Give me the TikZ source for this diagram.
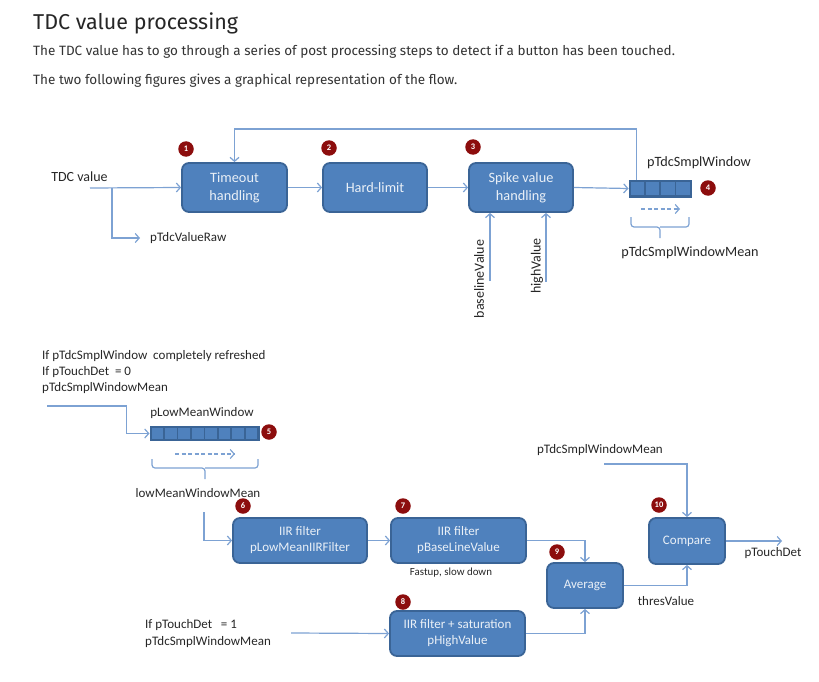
\documentclass[tikz,border=0pt]{standalone}
\usepackage{fontspec}
\setmainfont{Carlito}
\newfontfamily\pagefont{Fira Sans}
\usetikzlibrary{arrows.meta}
\definecolor{boxfill}{HTML}{4F81BD}
\definecolor{boxdraw}{HTML}{3A6496}
\definecolor{wire}{HTML}{7DA2D3}
\definecolor{badgec}{HTML}{8C0D0D}
\definecolor{pagetext}{HTML}{333333}
\tikzset{
  proc/.style={draw=boxdraw, line width=1.8pt, fill=boxfill, rounded corners=7pt,
    text=white!88!boxfill, font=\fontsize{13}{16}\selectfont, align=center, inner sep=0pt},
  bigproc/.style={proc, font=\fontsize{14.3}{18}\selectfont},
  badge/.style={circle, fill=badgec, minimum size=15.5pt, inner sep=0pt, text=white,
    font=\fontsize{8.5}{8.5}\selectfont\bfseries},
  lbl/.style={inner sep=0pt, text=black!85, font=\fontsize{13}{15}\selectfont},
  biglbl/.style={lbl, font=\fontsize{14.2}{16}\selectfont},
  slbl/.style={inner sep=0pt, text=black!85, font=\fontsize{13}{16}\selectfont, align=left},
  wirel/.style={draw=wire, line width=1.2pt},
  arr/.style={wirel, -{Straight Barb[length=4pt,width=9pt]}},
  darr/.style={arr, dash pattern=on 4pt off 2.5pt},
  win/.style={draw=boxdraw, fill=boxdraw, line width=1pt, inner sep=0pt},
  cell/.style={fill=boxfill},
  brace/.style={wirel, rounded corners=3pt},
  ptext/.style={anchor=west, inner sep=0pt, text=pagetext, font=\pagefont\fontsize{13.5}{15}\selectfont},
}
\begin{document}
\begin{tikzpicture}[x=1pt, y=-1pt]
\useasboundingbox (0,0) rectangle (819,682);
% page text
\node[ptext, font=\pagefont\fontsize{21.5}{24}\selectfont, text=black!85] (title) at (33,23.5) {TDC value processing};
\node[ptext] (p1) at (33,52) {The TDC value has to go through a series of post processing steps to detect if a button has been touched.};
\node[ptext] (p2) at (33,81) {The two following figures gives a graphical representation of the flow.};

% ---------- top diagram ----------
\node[bigproc, minimum width=105pt, minimum height=49pt] (t1) at (234.5,187.5) {Timeout\\handling};
\node[bigproc, minimum width=104pt, minimum height=49pt] (t2) at (375,187.5) {Hard-limit};
\node[bigproc, minimum width=104pt, minimum height=49pt] (t3) at (521,187.5) {Spike value\\handling};
\node[badge] (b1) at (186,149) {1};
\node[badge] (b2) at (329,148) {2};
\node[badge] (b3) at (473,147) {3};

\node[win, minimum width=62pt, minimum height=17pt] (w4) at (660,188.5) {};
\foreach \i in {0,1,2,3} {
  \fill[cell] (630.8+\i*15.2,181.8) rectangle ++(13.4,13.4);
}
\node[badge] (b4) at (708,188) {4};
\node[biglbl] (swin) at (699,163) {pTdcSmplWindow};
\node[biglbl] (swmean) at (690,253) {pTdcSmplWindowMean};
\draw[darr] (641,209) coordinate (d4a) -- (680,209) coordinate (d4b);
\draw[brace] (631,217) -- (631,227) -- (660,227) -- (660,238) (660,227) -- (689,227) -- (689,217);

\node[lbl, font=\fontsize{14}{16}\selectfont] (tdc) at (79.5,177) {TDC value};
\node[lbl, anchor=west] (raw) at (150,238) {pTdcValueRaw};
\coordinate (tin) at (90,188);
\coordinate (rawend) at (140,238);
\draw[arr] (tin) -- (t1.west);
\draw[arr] ([xshift=22pt]tin) |- (rawend);
\draw[arr] (t1.east) -- (t2.west);
\draw[arr] (t2.east) -- (t3.west);
\draw[arr] (t3.east) -- (w4.west);
\draw[arr] ([xshift=8pt]w4.north west) |- ([yshift=33pt]t1.north) -- (t1.north);

\node[lbl, rotate=90, font=\fontsize{14}{16}\selectfont] (bval) at (479,279) {baselineValue};
\node[lbl, rotate=90, font=\fontsize{14}{16}\selectfont] (hval) at (537,266) {highValue};
\coordinate (bvs) at (490,281);
\coordinate (hvs) at (546,282);
\draw[arr] (bvs) -- (bvs |- t3.south);
\draw[arr] (hvs) -- (hvs |- t3.south);

% ---------- bottom diagram ----------
\node[slbl, anchor=north west] (cond) at (42,350) {If pTdcSmplWindow\ \ completely refreshed\\If pTouchDet\ \ = 0\\pTdcSmplWindowMean};
\coordinate (a5) at (47,406);
\node[win, minimum width=109pt, minimum height=14.5pt] (w5) at (204.5,433.5) {};
\foreach \i in {0,...,7} {
  \fill[cell] (151.5+\i*13.45,427.7) rectangle ++(11.7,11.6);
}
\node[badge] (b5) at (269,432) {5};
\node[lbl] (lmw) at (202,413) {pLowMeanWindow};
\draw[arr] (a5) -| ([xshift=-23pt]w5.west) -- (w5.west);
\draw[darr] (175,454) coordinate (d5a) -- (235,454) coordinate (d5b);
\draw[brace] (152,459) -- (152,468) -- (205,468) -- (205,479) (205,468) -- (258,468) -- (258,459);
\node[lbl] (lmwm) at (198,493) {lowMeanWindowMean};

\node[proc, minimum width=134pt, minimum height=45pt] (f6) at (300,540.5) {IIR filter\\pLowMeanIIRFilter};
\node[proc, minimum width=135pt, minimum height=45pt] (f7) at (458.5,540.5) {IIR filter\\pBaseLineValue};
\node[proc, minimum width=135pt, minimum height=45pt] (f8) at (457.5,633.5) {IIR filter + saturation\\pHighValue};
\node[proc, minimum width=76pt, minimum height=45pt] (avg) at (585,585.5) {Average};
\node[proc, minimum width=76pt, minimum height=46pt] (cmp) at (687,541) {Compare};
\node[badge] (b6) at (243,506) {6};
\node[badge] (b7) at (403,506) {7};
\node[badge] (b8) at (403,602) {8};
\node[badge] (b9) at (557,552) {9};
\node[badge] (b10) at (659,505) {10};
\node[lbl, font=\fontsize{10.9}{12}\selectfont] (fast) at (451,573) {Fastup, slow down};

\coordinate (lm) at (204,512);
\draw[arr] (lm) |- (f6.west);
\draw[arr] (f6.east) -- (f7.west);
\draw[arr] (f7.east) -| (avg.north);
\draw[arr] (f8.east) -| (avg.south);
\draw[arr] (avg.east) -| (cmp.south);
\node[lbl] (thr) at (666,601) {thresValue};

\node[slbl, anchor=west] (cond1) at (145,625) {If pTouchDet\ \ \ = 1};
\node[slbl, anchor=west] (cond1b) at (145,642) {pTdcSmplWindowMean};
\coordinate (td1) at (291,633);
\draw[arr] (td1) -- (f8.west);

\node[lbl] (pm) at (600,450) {pTdcSmplWindowMean};
\coordinate (pms) at (604,464);
\draw[arr] (pms) -| (cmp.north);
\coordinate (outp) at (782,541);
\draw[arr] (cmp.east) -- (outp);
\node[lbl] (ptd) at (773,553) {pTouchDet};
\end{tikzpicture}
\end{document}
